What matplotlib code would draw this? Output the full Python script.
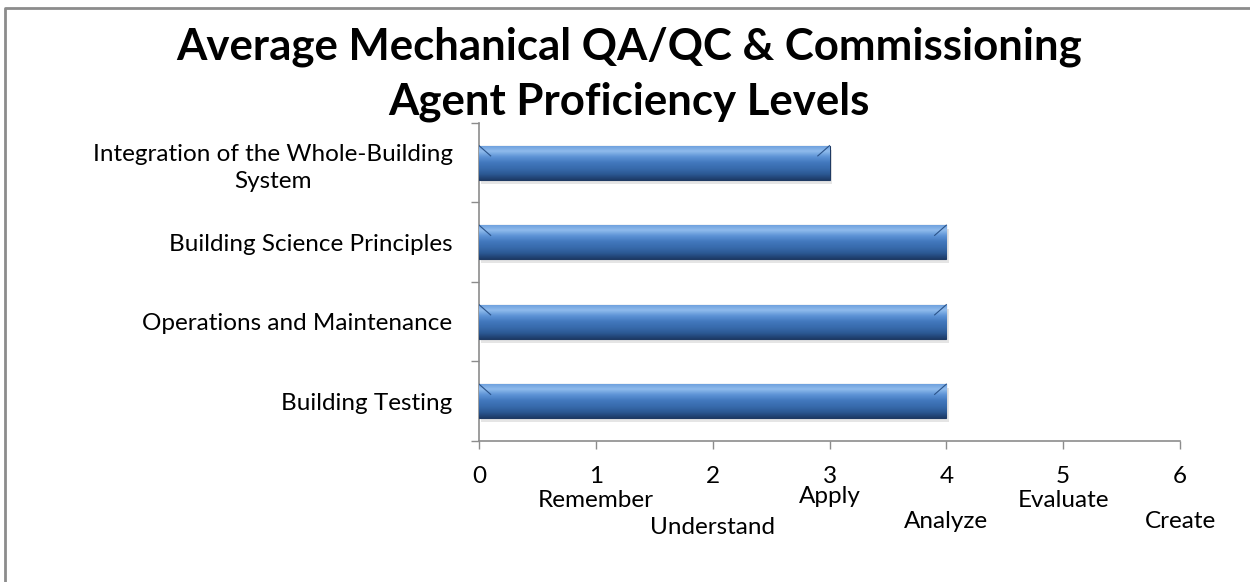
import matplotlib
matplotlib.use('Agg')
import matplotlib.pyplot as plt
from matplotlib.lines import Line2D
from matplotlib.colors import LinearSegmentedColormap
import numpy as np

# 熟练度数据（自下而上）
categories = ['Building Testing',
              'Operations and Maintenance',
              'Building Science Principles',
              'Integration of the Whole-Building\nSystem']
levels = [4, 4, 4, 3]

# 横轴刻度及布鲁姆层级名称
x_ticks = [0, 1, 2, 3, 4, 5, 6]
level_names = ['', 'Remember', 'Understand', 'Apply', 'Analyze', 'Evaluate', 'Create']

plt.rcParams['font.family'] = ['Lato', 'DejaVu Sans']

fig = plt.figure(figsize=(12.5, 5.82), dpi=100)
ax = fig.add_axes([0.3832, 0.2423, 0.5608, 0.5464])

y = np.arange(len(categories))
bars = ax.barh(y, levels, height=0.43, color='#3f72b4', edgecolor='#1f3a63',
               linewidth=0.8, zorder=3)

# 条形渐变、斜角与阴影
grad = LinearSegmentedColormap.from_list(
    'bar', ['#1d3b68', '#2c5994', '#386bad', '#4278bd', '#5d93d6', '#8fbbec', '#6a9ddc'])
g = np.linspace(0, 1, 64).reshape(-1, 1)
for b in bars:
    x0, y0 = b.get_x(), b.get_y()
    w, h = b.get_width(), b.get_height()
    ax.barh(y0 + h / 2 - 0.05, w, height=h, left=x0 + 0.02, color='#000000',
            alpha=0.10, linewidth=0, zorder=2)
    im = ax.imshow(g, cmap=grad, aspect='auto', origin='lower',
                   extent=[x0, x0 + w, y0, y0 + h], zorder=4)
    im.set_clip_path(b)
    ax.plot([x0, x0 + 0.1], [y0 + h, y0 + h * 0.7], color='#2a5288', lw=0.8, zorder=5)
    ax.plot([x0 + w, x0 + w - 0.1], [y0 + h, y0 + h * 0.7], color='#2a5288', lw=0.8, zorder=5)

ax.set_xlim(0, 6)
ax.set_ylim(-0.5, len(categories) - 0.5)

ax.set_xticks(x_ticks)
ax.set_xticklabels([str(t) for t in x_ticks], fontsize=17.5)
ax.tick_params(axis='x', length=6, width=1, color='#8c8c8c', pad=12, direction='out')

ax.set_yticks(y)
ax.set_yticklabels(categories, fontsize=17.5, ha='right', multialignment='center',
                   linespacing=1.35)
ax.tick_params(axis='y', which='major', length=0, pad=19)
ax.set_yticks(np.arange(len(categories) + 1) - 0.5, minor=True)
ax.tick_params(axis='y', which='minor', length=6, width=1, color='#8c8c8c', direction='out')

for side in ['top', 'right']:
    ax.spines[side].set_visible(False)
for side in ['left', 'bottom']:
    ax.spines[side].set_color('#8c8c8c')
    ax.spines[side].set_linewidth(1.2)

# 层级名称分两行交错排列（像素偏移）
name_offsets = [0, 66, 93, 62, 87, 66, 87]
for t, name, off in zip(x_ticks, level_names, name_offsets):
    if not name:
        continue
    ax.annotate(name, xy=(t, 0), xycoords=('data', 'axes fraction'),
                xytext=(0, -off), textcoords='offset pixels',
                ha='center', va='baseline', fontsize=17.5)

fig.text(0.503, 0.955, 'Average Mechanical QA/QC & Commissioning\nAgent Proficiency Levels',
         ha='center', va='top', fontsize=31.5, fontweight='bold', linespacing=1.45)

# 图表外框
fig.add_artist(Line2D([5 / 1250, 5 / 1250, 1.0], [0.0, 1 - 8 / 582, 1 - 8 / 582],
                      transform=fig.transFigure, color='#8c8c8c', lw=2))

fig.savefig('out.png', dpi=100)
